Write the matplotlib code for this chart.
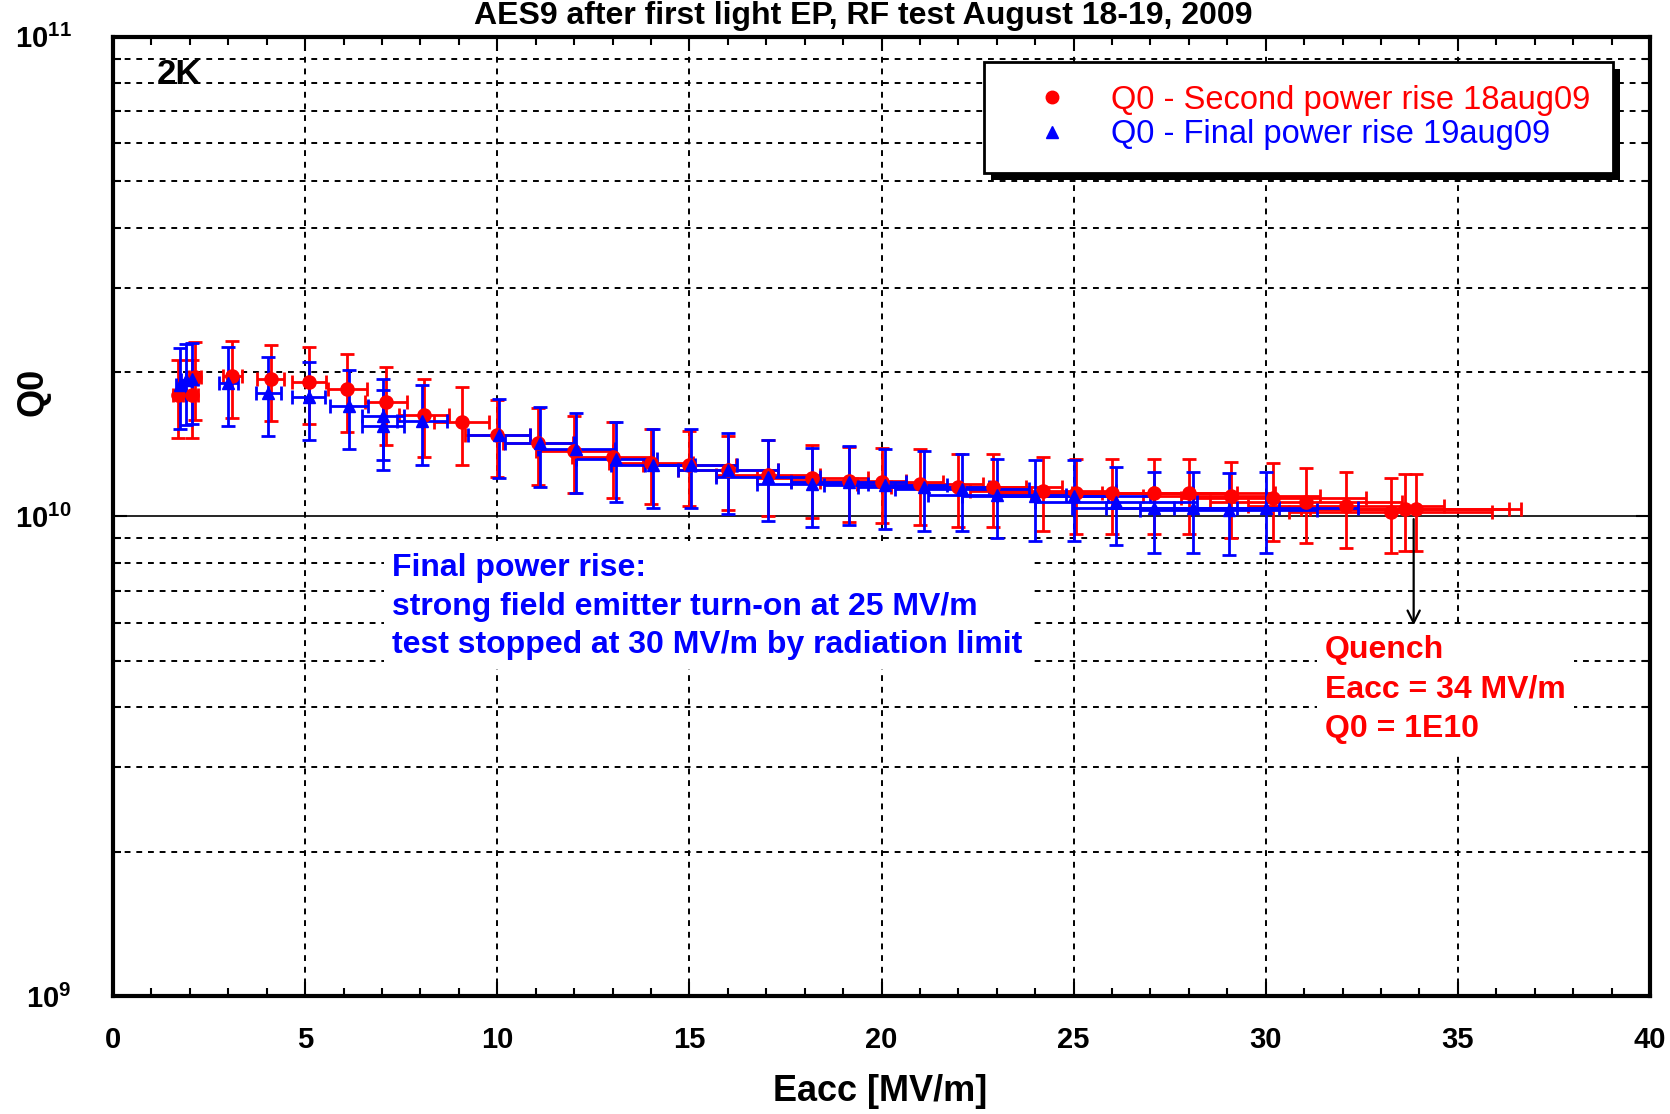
import matplotlib
matplotlib.use('Agg')
import matplotlib.pyplot as plt
import numpy as np
from matplotlib.lines import Line2D
from matplotlib.patches import Rectangle
from matplotlib.transforms import IdentityTransform
from matplotlib.ticker import MultipleLocator, LogLocator, NullFormatter

plt.rcParams['font.family'] = ['Liberation Sans', 'DejaVu Sans']
plt.rcParams['font.weight'] = 'bold'
plt.rcParams['mathtext.default'] = 'regular'

# Q0 - Second power rise 18aug09 (Eacc in MV/m, Q0 in units of 1e10)
red_eacc = [1.69, 2.05, 2.13, 3.1, 4.1, 5.1, 6.1, 7.1, 8.1, 9.07, 10.0, 11.06, 12.0,
            13.0, 14.0, 15.0, 16.0, 17.05, 18.2, 19.15, 20.0, 21.0, 22.0, 22.9, 24.2,
            25.06, 26.0, 27.1, 28.0, 29.1, 30.2, 31.05, 32.1, 33.25, 33.63, 33.9]
red_q0 = [1.79, 1.79, 1.95, 1.96, 1.93, 1.91, 1.84, 1.73, 1.63, 1.57, 1.48, 1.42, 1.37,
          1.33, 1.29, 1.28, 1.25, 1.22, 1.20, 1.185, 1.18, 1.17, 1.15, 1.15, 1.13,
          1.12, 1.12, 1.12, 1.12, 1.10, 1.09, 1.07, 1.05, 1.02, 1.035, 1.035]
red_eacc_err = [0.12, 0.15, 0.15, 0.25, 0.35, 0.43, 0.5, 0.55, 0.65, 0.72, 0.85, 0.9, 1.0,
                1.05, 1.1, 1.2, 1.3, 1.35, 1.45, 1.5, 1.6, 1.65, 1.75, 1.8, 1.9,
                2.0, 2.1, 2.15, 2.25, 2.3, 2.4, 2.5, 2.55, 2.65, 2.7, 2.75]
red_q0_err = [0.33, 0.33, 0.36, 0.36, 0.35, 0.35, 0.34, 0.32, 0.30, 0.29, 0.27, 0.26, 0.25,
              0.24, 0.23, 0.23, 0.22, 0.22, 0.21, 0.21, 0.21, 0.21, 0.2, 0.2, 0.2,
              0.2, 0.2, 0.2, 0.2, 0.2, 0.2, 0.19, 0.19, 0.18, 0.19, 0.19]

# Q0 - Final power rise 19aug09
blue_eacc = [1.75, 1.9, 2.05, 3.0, 4.04, 5.09, 6.14, 7.03, 7.03, 8.03, 10.04, 11.1, 12.06,
             13.1, 14.05, 15.05, 16.0, 17.05, 18.2, 19.15, 20.1, 21.1, 22.1, 23.0, 24.0,
             25.0, 26.1, 27.1, 28.1, 29.04, 30.0]
blue_q0 = [1.88, 1.92, 1.93, 1.90, 1.81, 1.77, 1.70, 1.62, 1.54, 1.58, 1.48, 1.42, 1.38,
           1.32, 1.28, 1.28, 1.25, 1.21, 1.17, 1.18, 1.16, 1.15, 1.14, 1.11, 1.10,
           1.10, 1.07, 1.04, 1.04, 1.03, 1.04]
blue_eacc_err = [0.12, 0.14, 0.15, 0.25, 0.32, 0.42, 0.5, 0.55, 0.55, 0.65, 0.8, 0.9, 1.0,
                 1.05, 1.1, 1.2, 1.3, 1.35, 1.45, 1.5, 1.6, 1.7, 1.75, 1.8, 1.9,
                 2.0, 2.1, 2.15, 2.25, 2.3, 2.4]
blue_q0_err = [0.36, 0.37, 0.37, 0.36, 0.34, 0.33, 0.32, 0.31, 0.29, 0.30, 0.28, 0.27, 0.26,
               0.25, 0.24, 0.24, 0.24, 0.23, 0.22, 0.22, 0.22, 0.22, 0.21, 0.21, 0.21,
               0.21, 0.2, 0.2, 0.2, 0.2, 0.2]

# quench point
quench_eacc = 33.85
quench_q0 = 1.0e10
arrow_end_q0 = 5.85e9

fig = plt.figure(figsize=(16.7, 11.14), dpi=100)
ax = fig.add_axes([0.0677, 0.106, 0.9203, 0.861])

scale = 1e10
ax.errorbar(red_eacc, np.array(red_q0) * scale, xerr=red_eacc_err,
            yerr=np.array(red_q0_err) * scale, fmt='o', color='red', ms=9.5,
            elinewidth=2.0, capsize=5, capthick=2.0, zorder=3)
ax.errorbar(blue_eacc, np.array(blue_q0) * scale, xerr=blue_eacc_err,
            yerr=np.array(blue_q0_err) * scale, fmt='^', color='blue', ms=8.5,
            elinewidth=2.0, capsize=5, capthick=2.0, zorder=3)

ax.set_xlim(0, 40)
ax.set_yscale('log')
ax.set_ylim(1e9, 1e11)
ax.xaxis.set_major_locator(MultipleLocator(5))
ax.xaxis.set_minor_locator(MultipleLocator(1))
ax.set_yticks([1e9, 1e10, 1e11])
ax.set_yticklabels(['10$^{9}$', '10$^{10}$', '10$^{11}$'])
ax.yaxis.set_minor_locator(LogLocator(base=10, subs=range(2, 10)))
ax.yaxis.set_minor_formatter(NullFormatter())

ax.tick_params(which='both', direction='in', top=True, right=True, width=1.5, labelsize=21)
ax.tick_params(which='major', length=10)
ax.tick_params(which='minor', length=6)
ax.tick_params(axis='y', pad=30)
ax.tick_params(axis='x', pad=22)

dash = (0, (3, 3))
ax.grid(True, which='major', axis='x', ls=dash, color='black', lw=1.4)
ax.grid(True, which='minor', axis='y', ls=dash, color='black', lw=1.4)
ax.axhline(1e10, color='black', lw=1.2, zorder=1)

for s in ax.spines.values():
    s.set_linewidth(3)

ax.set_xlabel('Eacc [MV/m]', fontsize=26, fontweight='bold')
ax.xaxis.set_label_coords(0.499, -0.081)
ax.set_ylabel('Q0', fontsize=26, fontweight='bold')
ax.yaxis.set_label_coords(-0.041, 0.63)

fig.text(0.517, 0.9995, 'AES9 after first light EP, RF test August 18-19, 2009',
         ha='center', va='top', fontsize=23, fontweight='bold')

ax.text(0.0286, 0.961, '2K', transform=ax.transAxes, fontsize=25,
        fontweight='bold', va='center', ha='left')

ax.text(0.1815, 0.462, 'Final power rise:\nstrong field emitter turn-on at 25 MV/m\n'
        'test stopped at 30 MV/m by radiation limit', transform=ax.transAxes,
        color='blue', fontsize=23, fontweight='bold', va='top', ha='left',
        linespacing=1.38, zorder=4,
        bbox=dict(facecolor='white', edgecolor='none', pad=6))

ax.text(0.7885, 0.376, 'Quench\nEacc = 34 MV/m\nQ0 = 1E10', transform=ax.transAxes,
        color='red', fontsize=23, fontweight='bold', va='top', ha='left',
        linespacing=1.4, zorder=4,
        bbox=dict(facecolor='white', edgecolor='none', pad=6))

ax.annotate('', xy=(quench_eacc, arrow_end_q0), xytext=(quench_eacc, quench_q0),
            arrowprops=dict(arrowstyle='->', color='black', lw=1.6, mutation_scale=22),
            zorder=5)

handles = [Line2D([], [], ls='none', marker='o', color='red', ms=9),
           Line2D([], [], ls='none', marker='^', color='blue', ms=8)]
labels = ['Q0 - Second power rise 18aug09', 'Q0 - Final power rise 19aug09']
leg = ax.legend(handles, labels, loc='upper right', bbox_to_anchor=(0.976, 0.974),
                borderaxespad=0, fancybox=False, framealpha=1, edgecolor='black',
                prop={'size': 23.5, 'weight': 'normal'}, labelcolor=['red', 'blue'],
                handlelength=2.75, handletextpad=0.43, borderpad=0.7, labelspacing=0.12)
leg.get_frame().set_linewidth(2)
leg.set_zorder(6)

# drop shadow under the legend box
fig.canvas.draw()
bb = leg.get_window_extent()
ax.add_artist(Rectangle((bb.x0 + 7, bb.y0 - 7), bb.width, bb.height,
                        transform=IdentityTransform(), facecolor='black',
                        edgecolor='none', zorder=5.5))

fig.savefig('out.png', dpi=100)
